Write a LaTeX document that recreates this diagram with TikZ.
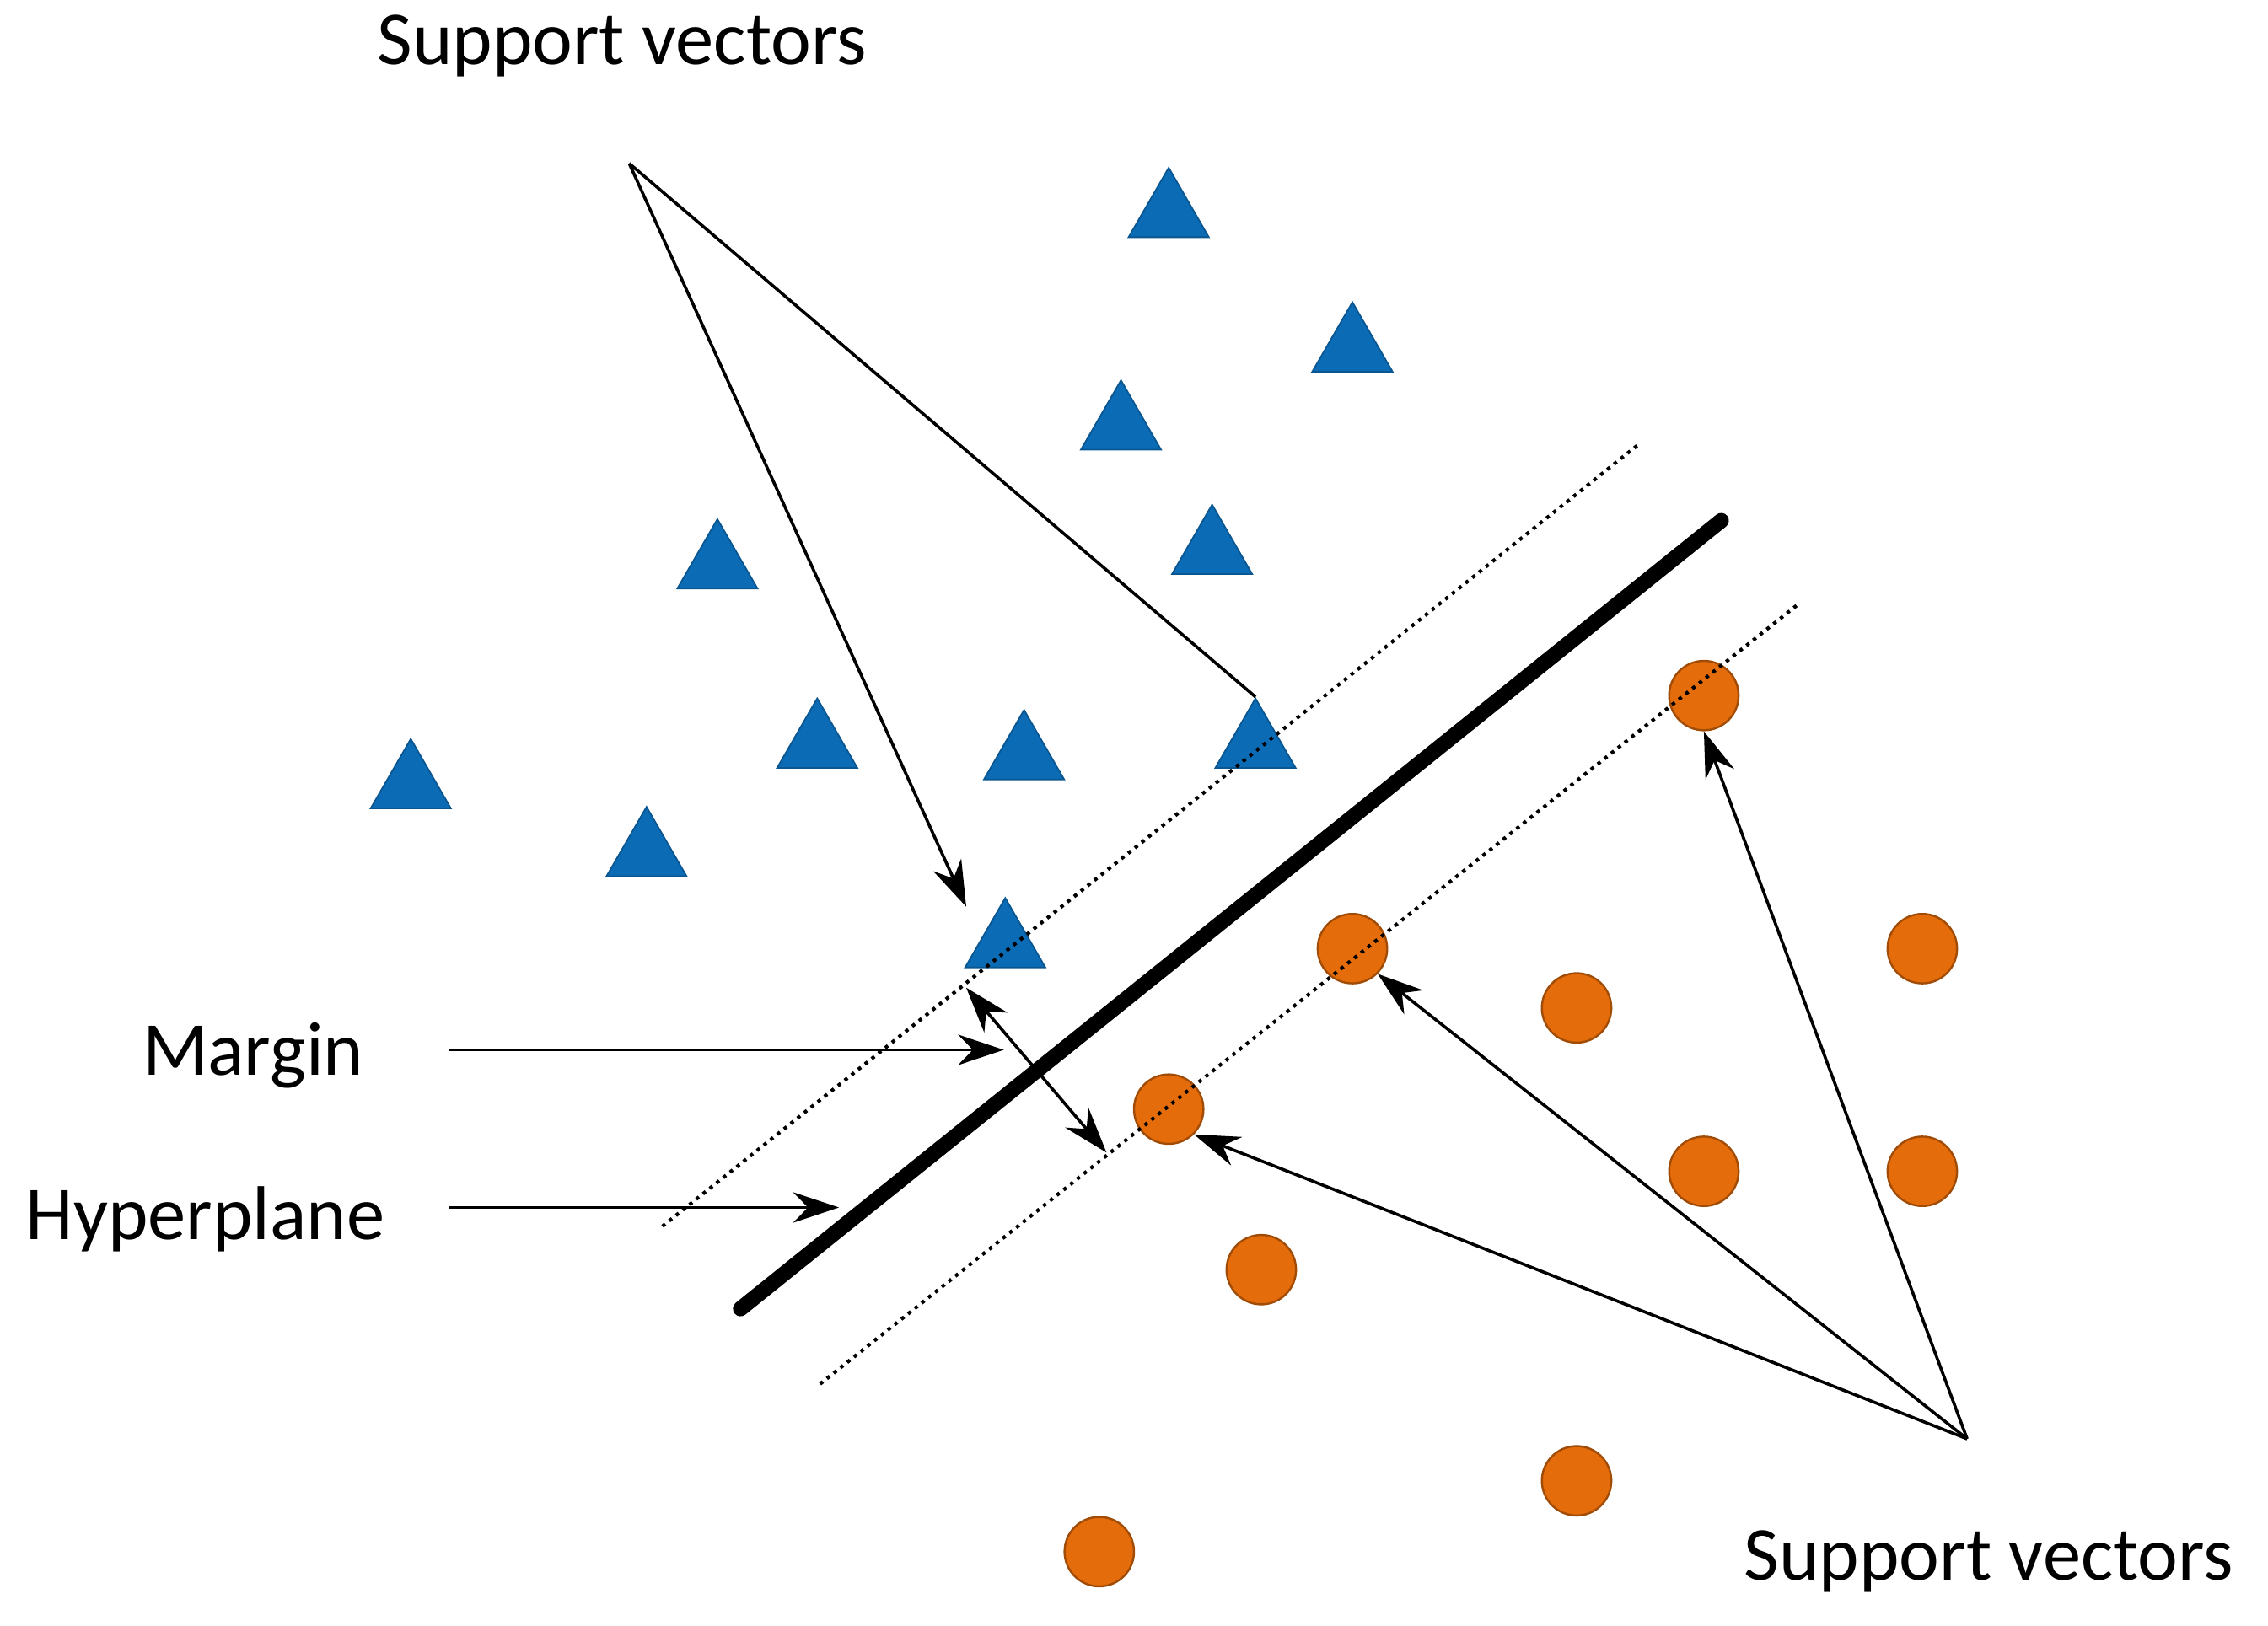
\documentclass[tikz,border=0pt]{standalone}
\usepackage{fontspec}
\setmainfont{Carlito}
\usetikzlibrary{arrows.meta}
\definecolor{tblue}{HTML}{0B6BB5}
\definecolor{corange}{HTML}{E46C0A}
\begin{document}
\begin{tikzpicture}[x=0.01cm,y=-0.01cm,
  tri/.style={regular polygon,regular polygon sides=3,fill=tblue,draw=tblue!80!black,line width=0.3pt,minimum size=62\pgflinewidth, inner sep=0pt,minimum size=0.64cm},
  dot/.style={circle,fill=corange,draw=corange!70!black,line width=0.4pt,minimum size=0.48cm,inner sep=0pt},
  lab/.style={font=\fontsize{15}{17}\selectfont},
  arr/.style={-{Stealth[length=9pt,width=6pt]},line width=0.6pt},
  thin/.style={line width=0.6pt},
  dotl/.style={densely dotted,line width=0.7pt}]
\useasboundingbox (0,0) rectangle (1568,1124);
\usetikzlibrary{shapes.geometric}
% triangles
\foreach \n/\x/\y in {t1/808/148,t2/935/241,t3/775/295,t4/838/381,t5/496/391,t6/565/515,t7/708/523,t8/868/515,t9/284/543,t10/447/590,t11/695/653}
  \node[tri] (\n) at (\x,\y) {};
% circles
\foreach \n/\x/\y in {c1/1178/481,c2/935/656,c3/1090/697,c4/1329/656,c5/808/767,c6/1178/810,c7/1329/810,c8/872/878,c9/1090/1024,c10/760/1073}
  \node[dot] (\n) at (\x,\y) {};
% lines
\coordinate (h1) at (512,905); \coordinate (h2) at (1190,360);
\draw[line width=3pt,line cap=round] (h1) -- (h2);
\coordinate (u1) at (458,848); \coordinate (u2) at (1132,308);
\coordinate (l1) at (567,957); \coordinate (l2) at (1243,418);
\draw[dotl] (u1) -- (u2);
\draw[dotl] (l1) -- (l2);
% labels
\node[lab] (sv1) at (430,32) {Support vectors};
\node[lab] (sv2) at (1375,1080) {Support vectors};
\node[lab] (mg) at (175,730) {Margin};
\node[lab] (hp) at (142,843) {Hyperplane};
\coordinate (a1) at (435,113);
\coordinate (a2) at (1360,995);
\draw[thin] (a1) -- (t8.north);
\draw[arr] (a1) -- (668,627);
\draw[arr] (a2) -- (c1.south);
\draw[arr] (a2) -- (c2.south east);
\draw[arr] (a2) -- (c5.south east);
\coordinate (m1) at (668,683); \coordinate (m2) at (765,797);
\draw[{Stealth[length=9pt,width=6pt]}-{Stealth[length=9pt,width=6pt]},line width=0.6pt] (m1) -- (m2);
\coordinate (ms) at (310,726); \coordinate (me) at (694,726);
\draw[arr] (ms) -- (me);
\coordinate (hs) at (310,835); \coordinate (he) at (580,835);
\draw[arr] (hs) -- (he);
\end{tikzpicture}
\end{document}
